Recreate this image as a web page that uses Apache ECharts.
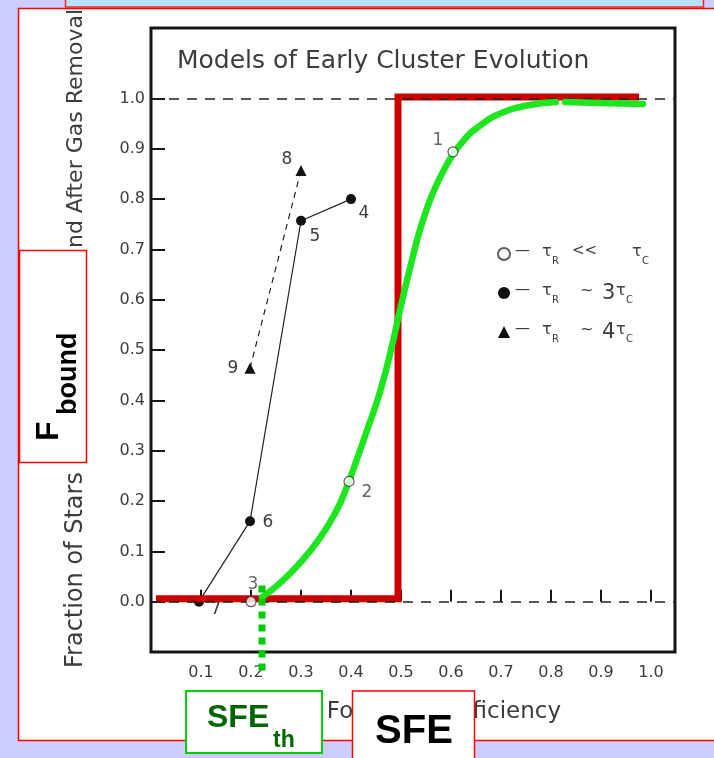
<!DOCTYPE html>
<html><head><meta charset="utf-8">
<script src="https://cdn.jsdelivr.net/npm/echarts@6/dist/echarts.min.js"></script>
<style>html,body{margin:0;padding:0;background:#ccccff;}#c{width:714px;height:758px;}</style>
</head><body><div id="c"></div>
<script>
// ---- data ----
const chartTitle = 'Models of Early Cluster Evolution';
const xName = 'Star Formation Efficiency';
const yNameLower = 'Fraction of Stars';
const yNameUpper = 'Bound After Gas Removal';
const xTicks = [0.1, 0.2, 0.3, 0.4, 0.5, 0.6, 0.7, 0.8, 0.9, 1.0];
const yTicks = [0.0, 0.1, 0.2, 0.3, 0.4, 0.5, 0.6, 0.7, 0.8, 0.9, 1.0];
const legendNames = ['τR << τC', 'τR ~ 3τC', 'τR ~ 4τC'];
const openCircles = [[0.604, 0.894], [0.396, 0.239], [0.2, 0.0]];
const openIds = ['1', '2', '3'];
const filledCircles = [[0.096, 0.0], [0.198, 0.16], [0.3, 0.757], [0.4, 0.80]];
const filledIds = ['7', '6', '5', '4'];
const triangles = [[0.198, 0.464], [0.3, 0.857]];
const triangleIds = ['9', '8'];
const refLevels = [0, 1];
const sfeStep = [[0.01, 0.006], [0.494, 0.006], [0.494, 1.003], [0.976, 1.003]];
const fboundCurveA = [[0.222, 0.009], [0.258, 0.037], [0.298, 0.077], [0.338, 0.127], [0.370, 0.179],
  [0.390, 0.224], [0.410, 0.278], [0.434, 0.346], [0.458, 0.417], [0.480, 0.500], [0.498, 0.580],
  [0.518, 0.663], [0.538, 0.739], [0.562, 0.808], [0.588, 0.862], [0.618, 0.908], [0.658, 0.946],
  [0.708, 0.974], [0.758, 0.987], [0.810, 0.993]];
const fboundCurveB = [[0.828, 0.993], [0.898, 0.991], [0.984, 0.989]];
const sfeThreshold = [[0.222, 0.032], [0.222, -0.137]];

// ---- styles ----
const ink = '#3c3c3c';
const scanFont = '"DejaVu Sans", sans-serif';
const openOffsets = [[-15, -11], [18, 11], [2, -17]];
const filledOffsets = [[17, 8], [18, 1], [14, 16], [13, 14]];
const triOffsets = [[-17, 0], [-14, -11]];

function withLabels(points, ids, offsets) {
  return points.map((p, i) => ({
    value: p,
    label: { show: true, formatter: ids[i], position: 'inside', offset: offsets[i],
      color: ink, fontSize: 17, fontFamily: scanFont }
  }));
}

const base = { color: ink, fontFamily: scanFont, verticalAlign: 'top', lineHeight: 20 };
const legendRich = {
  d: Object.assign({}, base, { fontSize: 15, width: 27 }),
  t: Object.assign({}, base, { fontSize: 16, width: 10 }),
  l: Object.assign({}, base, { fontSize: 15, width: 27 }),
  w: Object.assign({}, base, { fontSize: 16, width: 14 }),
  b: Object.assign({}, base, { fontSize: 21, width: 14 }),
  s: { fontSize: 10, color: ink, fontFamily: scanFont, verticalAlign: 'top', lineHeight: 10, padding: [12, 0, 0, 0], width: 10 },
  g1: { fontSize: 10, width: 10 },
  g2: { fontSize: 10, width: 33 },
  g3: { fontSize: 10, width: 18 },
  g4: { fontSize: 10, width: 8 }
};
const legendText = {};
legendText[legendNames[0]] = '{d|—}{t|τ}{s|R}{g1| }{l|<<}{g2| }{t|τ}{s|C}';
legendText[legendNames[1]] = '{d|—}{t|τ}{s|R}{g3| }{w|~}{g4| }{b|3}{t|τ}{s|C}';
legendText[legendNames[2]] = '{d|—}{t|τ}{s|R}{g3| }{w|~}{g4| }{b|4}{t|τ}{s|C}';

const chart = echarts.init(document.getElementById('c'));
chart.setOption({
  backgroundColor: '#ccccff',
  animation: false,
  grid: { left: 151, right: 39, top: 28, bottom: 106, show: true, borderColor: '#151515', borderWidth: 3 },
  xAxis: {
    type: 'value', min: 0, max: 1.048,
    axisLine: { show: false },
    splitLine: { show: false },
    axisTick: { show: true, inside: true, length: 12, customValues: xTicks, lineStyle: { color: '#151515', width: 2 } },
    axisLabel: { customValues: xTicks, margin: 13, color: ink, fontSize: 16, fontFamily: scanFont,
      formatter: v => v.toFixed(1) }
  },
  yAxis: {
    type: 'value', min: -0.1, max: 1.14,
    axisLine: { show: false },
    splitLine: { show: false },
    axisTick: { show: true, inside: true, length: 14, customValues: yTicks, lineStyle: { color: '#151515', width: 2 } },
    axisLabel: { customValues: yTicks, margin: 6, color: ink, fontSize: 16, fontFamily: scanFont,
      formatter: v => v.toFixed(1) }
  },
  legend: {
    orient: 'vertical', left: 492, top: 239, itemWidth: 12, itemHeight: 12, itemGap: 17,
    data: [
      { name: legendNames[0], icon: 'circle' },
      { name: legendNames[1], icon: 'circle' },
      { name: legendNames[2], icon: 'triangle' }
    ],
    formatter: n => legendText[n],
    textStyle: { rich: legendRich }
  },
  graphic: [
    { type: 'rect', z: -100, shape: { x: 18.5, y: 8.5, width: 720, height: 732 },
      style: { fill: '#ffffff', stroke: '#ff0000', lineWidth: 1.5 } },
    { type: 'rect', z: -100, shape: { x: 65.5, y: -3, width: 638, height: 10 },
      style: { fill: '#b6e3fb', stroke: '#ff2020', lineWidth: 1.5 } },
    { type: 'text', z: -50, x: 177, y: 74,
      style: { text: chartTitle, fill: ink, font: '25px ' + scanFont, textAlign: 'left', textVerticalAlign: 'bottom' } },
    { type: 'text', z: -50, x: 76, y: 668, rotation: Math.PI / 2,
      style: { text: yNameLower, fill: ink, font: '24px ' + scanFont, textAlign: 'left', textVerticalAlign: 'middle' } },
    { type: 'text', z: -50, x: 76, y: 9, rotation: Math.PI / 2,
      style: { text: yNameUpper, fill: ink, font: '22px ' + scanFont, textAlign: 'right', textVerticalAlign: 'middle' } },
    { type: 'text', z: -50, x: 561, y: 712,
      style: { text: xName, fill: ink, font: '23px ' + scanFont, textAlign: 'right', textVerticalAlign: 'middle' } },
    // F_bound box
    { type: 'rect', z: 100, shape: { x: 19.5, y: 250.5, width: 67, height: 212 },
      style: { fill: '#ffffff', stroke: '#ff0000', lineWidth: 1.5 } },
    { type: 'text', z: 101, x: 49, y: 441, rotation: Math.PI / 2,
      style: { text: 'F', fill: '#000', font: 'bold 32px "Liberation Sans", Arial, sans-serif', textAlign: 'left', textVerticalAlign: 'middle' } },
    { type: 'text', z: 101, x: 69, y: 415, rotation: Math.PI / 2,
      style: { text: 'bound', fill: '#000', font: 'bold 27px "Liberation Sans", Arial, sans-serif', textAlign: 'left', textVerticalAlign: 'middle' } },
    // SFE_th box
    { type: 'rect', z: 100, shape: { x: 186, y: 691, width: 136, height: 62 },
      style: { fill: '#ffffff', stroke: '#00cc00', lineWidth: 2 } },
    { type: 'text', z: 101, x: 207, y: 734,
      style: { text: 'SFE', fill: '#006600', font: 'bold 32px "Liberation Sans", Arial, sans-serif', textAlign: 'left', textVerticalAlign: 'bottom' } },
    { type: 'text', z: 101, x: 273, y: 752,
      style: { text: 'th', fill: '#006600', font: 'bold 23px "Liberation Sans", Arial, sans-serif', textAlign: 'left', textVerticalAlign: 'bottom' } },
    // SFE box
    { type: 'rect', z: 100, shape: { x: 352.5, y: 691, width: 122, height: 80 },
      style: { fill: '#ffffff', stroke: '#ff0000', lineWidth: 1.5 } },
    { type: 'text', z: 101, x: 414, y: 752,
      style: { text: 'SFE', fill: '#000', font: 'bold 40px "Liberation Sans", Arial, sans-serif', textAlign: 'center', textVerticalAlign: 'bottom' } }
  ],
  series: [
    {
      type: 'line', data: [], silent: true, z: 1,
      markLine: {
        silent: true, symbol: 'none', label: { show: false },
        lineStyle: { color: '#222', width: 1.5, type: [10, 8] },
        data: refLevels.map(v => ({ yAxis: v }))
      }
    },
    {
      name: legendNames[1], type: 'line', z: 3,
      data: withLabels(filledCircles, filledIds, filledOffsets),
      symbol: 'circle', symbolSize: 10,
      itemStyle: { color: '#111' },
      lineStyle: { color: '#222', width: 1.2 }
    },
    {
      name: legendNames[2], type: 'line', z: 3,
      data: withLabels(triangles, triangleIds, triOffsets),
      symbol: 'triangle', symbolSize: 11,
      itemStyle: { color: '#111' },
      lineStyle: { color: '#222', width: 1.2, type: [6, 5] }
    },
    {
      name: legendNames[0], type: 'scatter', z: 7,
      data: withLabels(openCircles, openIds, openOffsets),
      symbol: 'circle', symbolSize: 10,
      itemStyle: { color: '#ffffff', borderColor: '#333', borderWidth: 1.2 }
    },
    {
      type: 'line', z: 5, data: fboundCurveA, smooth: 0.5, showSymbol: false, silent: true,
      lineStyle: { color: '#1ee61e', width: 6.5, cap: 'round' }
    },
    {
      type: 'line', z: 5, data: fboundCurveB, smooth: 0.5, showSymbol: false, silent: true,
      lineStyle: { color: '#1ee61e', width: 6.5, cap: 'round' }
    },
    {
      type: 'line', z: 4, data: sfeStep, showSymbol: false, silent: true,
      lineStyle: { color: '#cc0000', width: 7, join: 'miter', cap: 'butt' }
    },
    {
      type: 'line', z: 8, data: sfeThreshold, showSymbol: false, silent: true, clip: false,
      lineStyle: { color: '#00cc00', width: 7, type: [7, 6], cap: 'butt' }
    }
  ]
});
</script></body></html>
